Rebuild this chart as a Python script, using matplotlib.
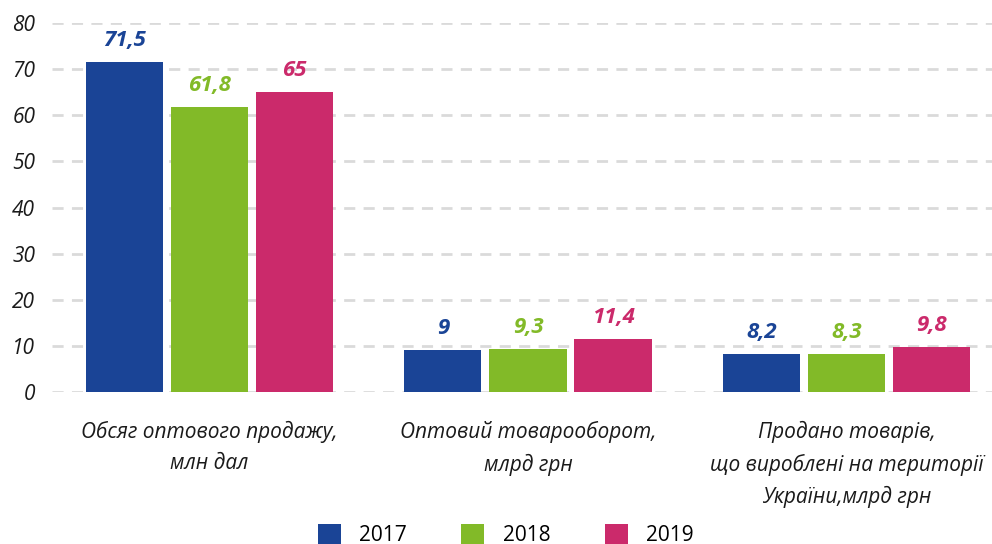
import matplotlib
matplotlib.use('agg')
import matplotlib.pyplot as plt
import numpy as np

categories = ['Обсяг оптового продажу,\nмлн дал',
              'Оптовий товарооборот,\nмлрд грн',
              'Продано товарів,\nщо вироблені на території\nУкраїни,млрд грн']
years = ['2017', '2018', '2019']
values_2017 = [71.5, 9, 8.2]
values_2018 = [61.8, 9.3, 8.3]
values_2019 = [65, 11.4, 9.8]
value_labels = [['71,5', '9', '8,2'], ['61,8', '9,3', '8,3'], ['65', '11,4', '9,8']]
colors = ['#1A4496', '#82BA28', '#CB2A6B']

plt.rcParams['font.family'] = ['Open Sans', 'DejaVu Sans']

fig = plt.figure(figsize=(9.92, 5.44), dpi=100)
ax = fig.add_axes([52 / 992, 152 / 544, 940 / 992, 369 / 544])

x = np.arange(len(categories))
width = 0.242
step = 0.267
series = [values_2017, values_2018, values_2019]
for i, vals in enumerate(series):
    pos = x + (i - 1) * step
    ax.bar(pos, vals, width, color=colors[i], label=years[i], zorder=3)
    for p, v, lab in zip(pos, vals, value_labels[i]):
        ax.text(p, v + 2.4, lab, ha='center', va='bottom', color=colors[i],
                fontsize=16, fontweight='bold', style='italic')

ax.set_xlim(-0.4945, 2.457)
ax.set_ylim(0, 80)
ax.set_yticks(range(0, 81, 10))
ax.yaxis.grid(True, color='#DADADA', linestyle=(0, (4, 3)), linewidth=2, zorder=0)
for s in ax.spines.values():
    s.set_visible(False)
ax.tick_params(axis='both', length=0)
ax.tick_params(axis='y', pad=12)
ax.set_yticklabels([str(v) for v in range(0, 81, 10)], fontsize=15, style='italic', color='#1a1a1a')
ax.set_xticks(x)
ax.set_xticklabels(categories, fontsize=15, style='italic', color='#1a1a1a', linespacing=1.6)
ax.tick_params(axis='x', pad=21)

fig.legend(loc='lower center', bbox_to_anchor=(0.51, -0.038), ncol=3, frameon=False,
           fontsize=15, handlelength=1.1, handleheight=1.1, columnspacing=2.6,
           handletextpad=0.9)

fig.savefig('out.png', dpi=100)
